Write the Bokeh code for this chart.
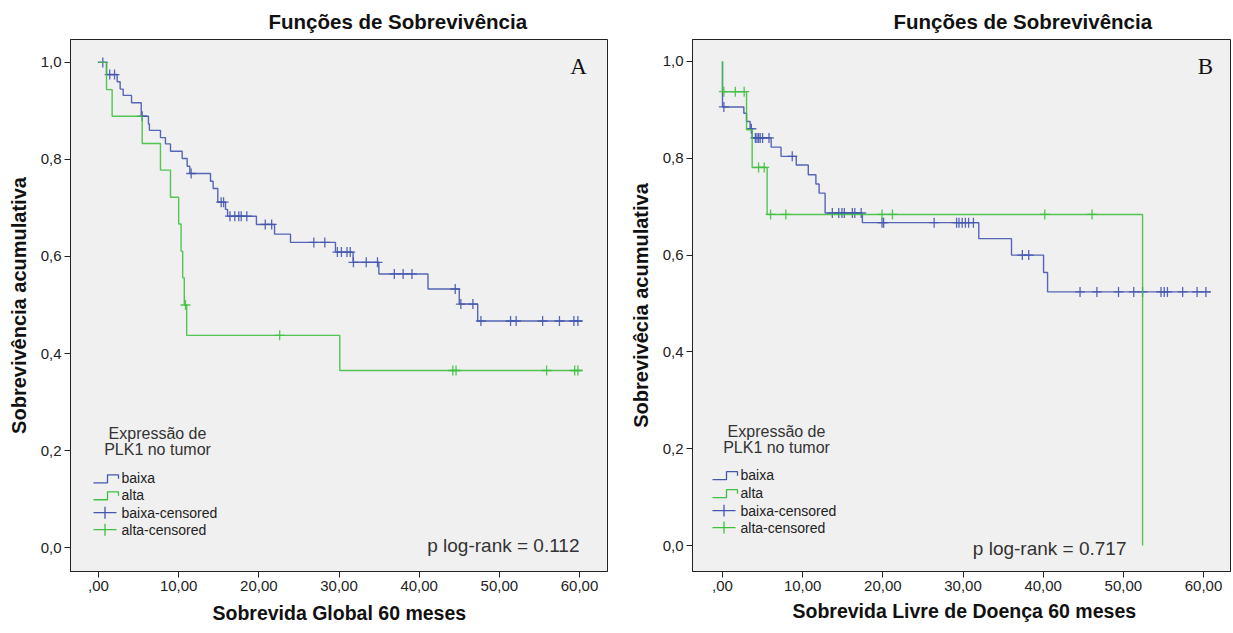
import numpy as np
from bokeh.plotting import figure
from bokeh.models import Range1d, FixedTicker, Label, Title
from bokeh.layouts import row
from bokeh.embed import file_html
from bokeh.resources import INLINE

BLUE = "#4357AE"
GREEN = "#40C040"

# ---------------- Panel A : Sobrevida Global ----------------
a_baixa_t = [1.0, 2.33, 2.7, 3.08, 4.12, 5.33, 6.23, 6.35, 7.73, 8.35, 8.98, 10.44, 11.06, 11.39,
             13.97, 14.3, 14.88, 15.84, 16.1, 19.7, 21.96, 23.95, 29.56, 31.76, 34.97, 41.1, 45.0, 47.3]
a_baixa_s = [0.975, 0.96, 0.945, 0.932, 0.917, 0.889, 0.873, 0.86, 0.845, 0.832, 0.817, 0.802, 0.786, 0.771,
             0.755, 0.740, 0.712, 0.697, 0.683, 0.666, 0.646, 0.629, 0.609, 0.588, 0.564, 0.533, 0.502, 0.467]
a_baixa_end = 60.3
a_baixa_cens = [0.54, 1.4, 2.0, 5.45, 11.56, 15.3, 15.6, 16.4, 17.0, 17.5, 17.8, 18.5, 20.8, 21.6,
                26.86, 28.23, 29.8, 30.3, 31.0, 31.4, 31.8, 33.4, 34.8, 36.9, 38.0, 39.1, 44.5, 45.2,
                46.7, 47.7, 51.4, 52.1, 55.4, 57.5, 59.3, 59.8]

a_alta_t = [1.0, 1.7, 5.45, 7.73, 8.98, 10.0, 10.3, 10.5, 10.7, 11.0, 30.1]
a_alta_s = [0.944, 0.889, 0.833, 0.778, 0.722, 0.667, 0.611, 0.556, 0.5, 0.4375, 0.365]
a_alta_end = 60.3
a_alta_cens = [10.85, 22.6, 44.2, 44.6, 55.9, 59.4, 59.8]

# ---------------- Panel B : Sobrevida Livre de Doença ----------------
b_baixa_t = [0.0, 2.66, 3.0, 3.45, 3.7, 6.07, 7.3, 9.2, 10.7, 11.65, 12.05, 12.8, 17.45,
             31.97, 36.05, 40.05, 40.55]
b_baixa_s = [0.906, 0.893, 0.876, 0.861, 0.842, 0.823, 0.804, 0.786, 0.766, 0.747, 0.728, 0.687, 0.667,
             0.634, 0.600, 0.564, 0.524]
b_baixa_end = 60.9
b_baixa_cens = [0.17, 3.6, 4.1, 4.3, 4.5, 4.7, 5.0, 5.8, 8.7, 13.7, 14.5, 14.9, 15.2, 16.2, 16.5, 17.3,
                19.9, 20.1, 26.4, 29.2, 29.5, 29.9, 30.3, 30.7, 31.3, 37.4, 38.2, 44.6, 46.7, 49.4,
                51.3, 52.4, 54.7, 55.1, 55.5, 57.4, 59.2, 60.3]

b_alta_t = [0.0, 3.0, 3.7, 5.57, 52.4]
b_alta_s = [0.9375, 0.859, 0.781, 0.684, 0.0]
b_alta_end = None
b_alta_cens = [0.17, 1.6, 2.7, 4.5, 5.2, 6.0, 7.9, 19.9, 21.2, 40.2, 46.1]

x_ticks = [0, 10, 20, 30, 40, 50, 60]
x_tick_labels = [",00", "10,00", "20,00", "30,00", "40,00", "50,00", "60,00"]
y_ticks = [0.0, 0.2, 0.4, 0.6, 0.8, 1.0]
y_tick_labels = ["0,0", "0,2", "0,4", "0,6", "0,8", "1,0"]
legend_title = ["Expressão de", "PLK1 no tumor"]
legend_items = ["baixa", "alta", "baixa-censored", "alta-censored"]

FONT = "Liberation Sans"


def step_xy(times, surv, t_end):
    x = [0.0] + list(times)
    y = [1.0] + list(surv)
    if t_end is not None:
        x.append(t_end)
        y.append(surv[-1])
    return x, y


def cens_y(times, surv, cens):
    t = np.asarray(times)
    out = []
    for c in cens:
        k = np.searchsorted(t, c, side="right")
        out.append(1.0 if k == 0 else surv[k - 1])
    return out


def make_panel(width, frame_left, frame_right_border, frame_top, frame_bottom_border,
               x0px, x60px, y0px, y1px, curves, title, xlabel, ylabel, letter,
               pval, leg, title_offset, xlab_offset, xlab_standoff):
    height = 633
    fw = width - frame_left - frame_right_border
    fh = height - frame_top - frame_bottom_border
    xs = (x60px - x0px) / 60.0
    ys = (y0px - y1px)
    fx = lambda px: (px - x0px) / xs
    fy = lambda py: (y0px - py) / ys
    xr = Range1d(fx(frame_left), fx(frame_left + fw))
    yr = Range1d(fy(frame_top + fh), fy(frame_top))
    p = figure(width=width, height=height, x_range=xr, y_range=yr,
               output_backend="svg", toolbar_location=None,
               min_border_left=frame_left, min_border_right=frame_right_border,
               min_border_top=frame_top, min_border_bottom=frame_bottom_border,
               background_fill_color="#F0F0F0", border_fill_color="white")
    p.title.text = title
    p.title.text_font = FONT
    p.title.text_font_size = "20.5px"
    p.title.text_font_style = "bold"
    p.title.text_color = "#111111"
    p.title.align = "left"
    p.title.offset = title_offset
    p.title.standoff = 14
    p.outline_line_color = "#222222"
    p.outline_line_width = 1
    p.grid.visible = False
    for ax in (p.xaxis[0], p.yaxis[0]):
        ax.axis_line_color = "#222222"
        ax.major_tick_line_color = "#222222"
        ax.major_tick_out = 6
        ax.major_tick_in = 0
        ax.minor_tick_line_color = None
        ax.major_label_text_font = FONT
        ax.major_label_text_font_size = "15px"
        ax.major_label_text_color = "#222222"
        ax.major_label_standoff = 3
        ax.axis_label_text_font = FONT
        ax.axis_label_text_font_style = "bold"
        ax.axis_label_text_color = "#111111"
    p.yaxis[0].axis_label_text_font_size = "20px"
    p.xaxis[0].ticker = FixedTicker(ticks=x_ticks)
    p.xaxis[0].major_label_overrides = {t: l for t, l in zip(x_ticks, x_tick_labels)}
    p.yaxis[0].ticker = FixedTicker(ticks=y_ticks)
    p.yaxis[0].major_label_overrides = {t: l for t, l in zip(y_ticks, y_tick_labels)}
    p.yaxis[0].axis_label = ylabel
    p.yaxis[0].axis_label_standoff = 8

    # x-axis title as a Title placed below the axis
    p.add_layout(Title(text=xlabel, text_font=FONT, text_font_size="19.5px",
                       text_font_style="bold", text_color="#111111",
                       align="left", offset=xlab_offset, standoff=xlab_standoff), "below")

    for times, surv, t_end, cens, color in curves:
        x, y = step_xy(times, surv, t_end)
        p.step(x, y, mode="after", line_color=color, line_width=1.4, line_alpha=0.9)
        p.scatter(cens, cens_y(times, surv, cens), marker="cross", size=10,
                  line_color=color, line_width=1.3, line_alpha=0.9)

    # letter
    p.add_layout(Label(x=fx(letter[1]), y=fy(letter[2]), text=letter[0],
                       text_font="Liberation Serif", text_font_size="23px",
                       text_align="center", text_baseline="middle", text_color="#111111"))
    # p-value
    p.add_layout(Label(x=fx(pval[1]), y=fy(pval[2]), text=pval[0],
                       text_font=FONT, text_font_size="19px", text_color="#333333",
                       text_align="right", text_baseline="middle"))
    # legend
    tcx, ty1, ty2, textx, rows, iconx = leg
    for txt, yy in zip(legend_title, (ty1, ty2)):
        p.add_layout(Label(x=fx(tcx), y=fy(yy), text=txt, text_font=FONT,
                           text_font_size="16px", text_color="#333333",
                           text_align="center", text_baseline="middle"))
    for i, (txt, yy) in enumerate(zip(legend_items, rows)):
        p.add_layout(Label(x=fx(textx), y=fy(yy), text=txt, text_font=FONT,
                           text_font_size="14px", text_color="#222222",
                           text_align="left", text_baseline="middle"))
        color = BLUE if i % 2 == 0 else GREEN
        if i < 2:
            lx = [iconx, iconx + 14, iconx + 14, iconx + 25, iconx + 25]
            ly = [yy + 5, yy + 5, yy - 3, yy - 3, yy + 1]
            p.line([fx(v) for v in lx], [fy(v) for v in ly], line_color=color, line_width=1.3)
        else:
            p.line([fx(iconx), fx(iconx + 23)], [fy(yy), fy(yy)], line_color=color, line_width=1.3)
            p.line([fx(iconx + 11.5), fx(iconx + 11.5)], [fy(yy - 6), fy(yy + 6)],
                   line_color=color, line_width=1.3)
    return p


pa = make_panel(620, 70, 13, 38, 61, 98, 579, 548, 61,
                [(a_baixa_t, a_baixa_s, a_baixa_end, a_baixa_cens, BLUE),
                 (a_alta_t, a_alta_s, a_alta_end, a_alta_cens, GREEN)],
                "Funções de Sobrevivência", "Sobrevida Global 60 meses",
                "Sobrevivência acumulativa", ("A", 578, 65),
                ("p log-rank = 0.112", 579, 546),
                (157, 433, 450, 121, [478, 495, 513, 530], 93), 198, 142, 12)

pb = make_panel(613, 72, 3, 38, 62, 102, 583, 545, 60,
                [(b_baixa_t, b_baixa_s, b_baixa_end, b_baixa_cens, BLUE),
                 (b_alta_t, b_alta_s, b_alta_end, b_alta_cens, GREEN)],
                "Funções de Sobrevivência", "Sobrevida Livre de Doença 60 meses",
                "Sobrevivêcia acumulativa", ("B", 585, 65),
                ("p log-rank = 0.717", 506, 548),
                (156, 431, 447, 120, [474, 492, 510, 527], 92), 201, 100, 8)

layout = row(pa, pb)
open("out.html", "w").write(file_html(layout, INLINE))
